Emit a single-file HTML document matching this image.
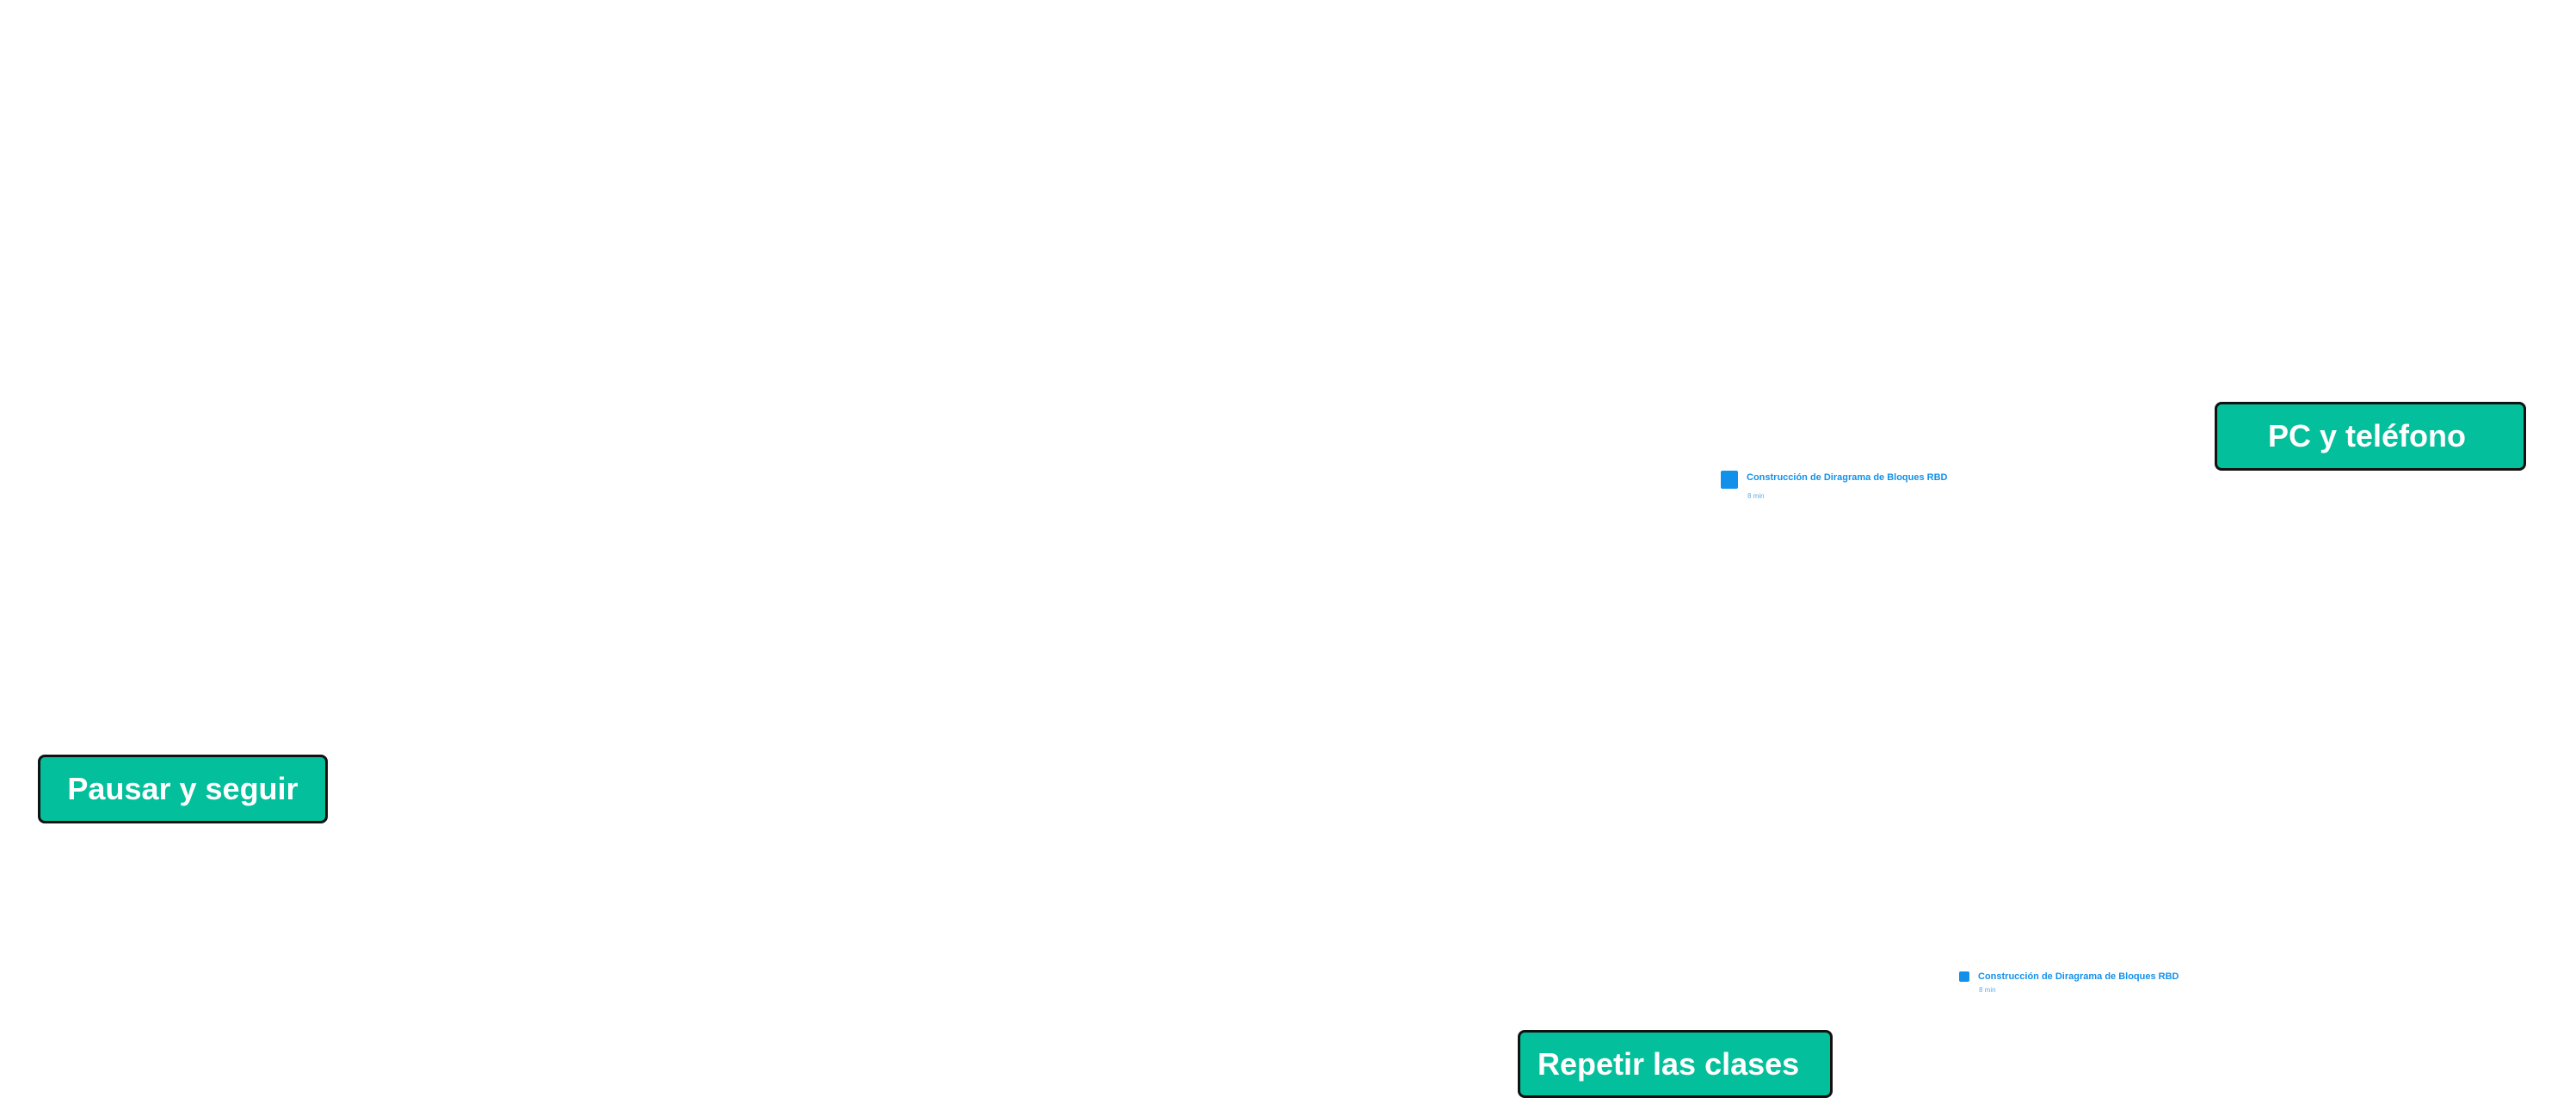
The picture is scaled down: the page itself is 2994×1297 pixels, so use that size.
<!DOCTYPE html>
<html><head><meta charset="utf-8"><style>
html,body{margin:0;padding:0;background:#fff;}
body{width:2994px;height:1297px;position:relative;overflow:hidden;font-family:"Liberation Sans",sans-serif;}
.box{position:absolute;box-sizing:border-box;background:#04bf9b;border:3px solid #111;border-radius:8px;color:#fff;font-weight:bold;font-size:36px;display:flex;align-items:center;justify-content:center;white-space:nowrap;}
.ic{position:absolute;background:#1291ea;border-radius:2px;}
.t{position:absolute;color:#1291ea;font-weight:bold;white-space:nowrap;line-height:1;}
.m{position:absolute;color:#5aaeea;white-space:nowrap;line-height:1;}
</style></head><body>
<div class="box" style="left:2574px;top:467px;width:362px;height:80px;padding-right:8px;">PC y teléfono</div>
<div class="box" style="left:44px;top:877px;width:337px;height:80px;">Pausar y seguir</div>
<div class="box" style="left:1764px;top:1197px;width:366px;height:79px;justify-content:flex-start;padding-left:20px;">Repetir las clases</div>

<div class="ic" style="left:2000px;top:547px;width:20px;height:21px;"></div>
<div class="t" style="left:2030px;top:550px;font-size:11px;">Construcción de Diragrama de Bloques RBD</div>
<div class="m" style="left:2031px;top:573px;font-size:8px;">8 min</div>

<div class="ic" style="left:2277px;top:1129px;width:12px;height:12px;"></div>
<div class="t" style="left:2299px;top:1130px;font-size:11px;">Construcción de Diragrama de Bloques RBD</div>
<div class="m" style="left:2300px;top:1147px;font-size:8px;">8 min</div>
</body></html>
